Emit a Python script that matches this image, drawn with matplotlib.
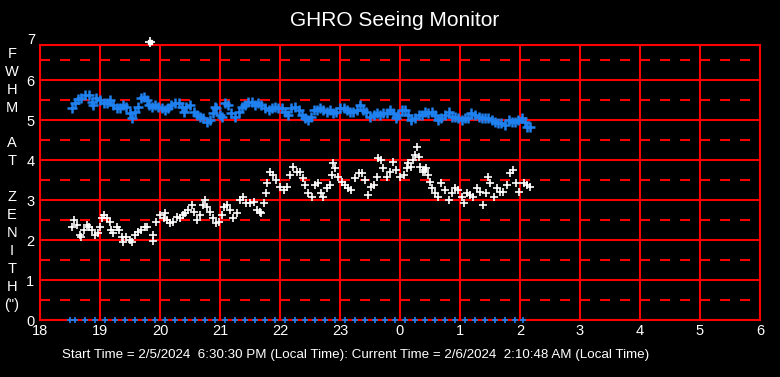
import matplotlib
matplotlib.use("Agg")
import matplotlib.pyplot as plt

plt.rcParams['font.family'] = ['Liberation Sans', 'DejaVu Sans']
plt.rcParams['lines.scale_dashes'] = False

# hours since midnight of the start day (values above 24 are after midnight)
blue_x = [18.53, 18.58, 18.64, 18.69, 18.75, 18.81, 18.86, 18.89, 18.94, 19.00, 19.06, 19.11,
          19.17, 19.22, 19.28, 19.33, 19.39, 19.44, 19.50, 19.54, 19.58, 19.64, 19.69, 19.73,
          19.78, 19.82, 19.86, 19.92, 19.97, 20.03, 20.08, 20.14, 20.19, 20.25, 20.31, 20.36,
          20.40, 20.44, 20.50, 20.56, 20.61, 20.67, 20.72, 20.78, 20.83, 20.88, 20.92, 20.94,
          21.00, 21.04, 21.08, 21.14, 21.19, 21.25, 21.31, 21.36, 21.42, 21.47, 21.53, 21.58,
          21.64, 21.69, 21.75, 21.81, 21.86, 21.92, 21.97, 22.03, 22.08, 22.14, 22.19, 22.25,
          22.31, 22.36, 22.42, 22.47, 22.51, 22.56, 22.61, 22.67, 22.72, 22.78, 22.83, 22.89,
          22.94, 23.00, 23.06, 23.11, 23.17, 23.22, 23.28, 23.33, 23.39, 23.44, 23.50, 23.56,
          23.61, 23.67, 23.72, 23.78, 23.83, 23.89, 23.93, 23.97, 24.03, 24.08, 24.14, 24.19,
          24.25, 24.31, 24.36, 24.42, 24.47, 24.53, 24.58, 24.64, 24.69, 24.75, 24.81, 24.86,
          24.92, 24.97, 25.03, 25.08, 25.14, 25.19, 25.25, 25.31, 25.36, 25.42, 25.47, 25.53,
          25.58, 25.64, 25.69, 25.75, 25.81, 25.86, 25.92, 25.97, 26.03, 26.08, 26.12, 26.17]
blue_y = [5.29, 5.42, 5.53, 5.54, 5.63, 5.63, 5.46, 5.38, 5.54, 5.50, 5.42, 5.42,
          5.50, 5.38, 5.29, 5.29, 5.38, 5.33, 5.17, 5.06, 5.21, 5.33, 5.54, 5.58,
          5.50, 5.38, 5.33, 5.38, 5.33, 5.29, 5.25, 5.29, 5.38, 5.42, 5.42, 5.33,
          5.21, 5.33, 5.38, 5.21, 5.13, 5.08, 5.04, 4.96, 5.00, 5.17, 5.33, 5.29,
          5.13, 5.08, 5.42, 5.38, 5.17, 5.08, 5.21, 5.33, 5.38, 5.46, 5.46, 5.38,
          5.42, 5.38, 5.29, 5.25, 5.29, 5.33, 5.29, 5.29, 5.21, 5.13, 5.29, 5.33,
          5.25, 5.13, 5.04, 5.00, 5.08, 5.25, 5.25, 5.29, 5.25, 5.21, 5.25, 5.17,
          5.21, 5.29, 5.29, 5.25, 5.21, 5.21, 5.25, 5.38, 5.25, 5.21, 5.08, 5.13,
          5.17, 5.13, 5.17, 5.17, 5.25, 5.17, 5.04, 5.13, 5.25, 5.25, 5.13, 5.00,
          5.04, 5.13, 5.13, 5.21, 5.17, 5.21, 5.13, 5.00, 5.04, 5.13, 5.21, 5.08,
          5.08, 5.04, 5.00, 5.04, 5.04, 5.17, 5.13, 5.08, 5.04, 5.04, 5.04, 5.00,
          4.96, 4.92, 4.92, 4.88, 5.00, 4.96, 4.96, 5.00, 5.04, 4.96, 4.83, 4.83]

white_x = [18.53, 18.57, 18.61, 18.67, 18.69, 18.73, 18.78, 18.82, 18.86, 18.92, 18.97, 19.00,
           19.03, 19.06, 19.11, 19.16, 19.19, 19.22, 19.28, 19.32, 19.36, 19.39, 19.44, 19.50,
           19.53, 19.58, 19.64, 19.69, 19.75, 19.79, 19.89, 19.88, 19.94, 20.00, 20.06, 20.08,
           20.11, 20.17, 20.22, 20.28, 20.33, 20.39, 20.42, 20.47, 20.53, 20.56, 20.61, 20.67,
           20.71, 20.75, 20.78, 20.83, 20.89, 20.93, 20.99, 21.03, 21.07, 21.11, 21.17, 21.22,
           21.28, 21.33, 21.39, 21.44, 21.50, 21.56, 21.61, 21.67, 21.69, 21.73, 21.77, 21.79,
           21.83, 21.89, 21.94, 22.00, 22.06, 22.11, 22.17, 22.22, 22.28, 22.33, 22.39, 22.42,
           22.47, 22.53, 22.58, 22.64, 22.69, 22.72, 22.78, 22.83, 22.86, 22.89, 22.92, 22.97,
           23.03, 23.08, 23.14, 23.19, 23.25, 23.31, 23.36, 23.42, 23.46, 23.51, 23.56, 23.61,
           23.64, 23.69, 23.72, 23.78, 23.83, 23.89, 23.94, 24.00, 24.06, 24.11, 24.14, 24.19,
           24.22, 24.25, 24.28, 24.31, 24.33, 24.38, 24.42, 24.44, 24.47, 24.50, 24.54, 24.58,
           24.64, 24.69, 24.75, 24.81, 24.86, 24.92, 24.97, 25.03, 25.07, 25.11, 25.17, 25.22,
           25.28, 25.33, 25.39, 25.43, 25.47, 25.50, 25.56, 25.61, 25.67, 25.72, 25.78, 25.83,
           25.89, 25.94, 25.99, 26.06, 26.11, 26.17]
white_y = [2.33, 2.50, 2.38, 2.13, 2.08, 2.25, 2.38, 2.33, 2.25, 2.13, 2.17, 2.33,
           2.54, 2.63, 2.54, 2.46, 2.25, 2.17, 2.33, 2.25, 2.08, 1.96, 2.08, 2.00,
           1.96, 2.13, 2.21, 2.25, 2.33, 2.33, 2.13, 1.98, 2.46, 2.63, 2.54, 2.67,
           2.50, 2.42, 2.46, 2.58, 2.54, 2.63, 2.67, 2.75, 2.88, 2.71, 2.50, 2.63,
           2.88, 3.00, 2.83, 2.71, 2.54, 2.42, 2.46, 2.63, 2.83, 2.88, 2.75, 2.54,
           2.67, 3.00, 3.08, 2.92, 2.92, 2.96, 2.75, 2.71, 2.67, 2.92, 3.17, 3.42,
           3.71, 3.63, 3.50, 3.33, 3.25, 3.33, 3.63, 3.83, 3.71, 3.71, 3.54, 3.38,
           3.17, 3.08, 3.38, 3.42, 3.17, 3.08, 3.29, 3.38, 3.63, 3.92, 3.79, 3.58,
           3.46, 3.38, 3.29, 3.25, 3.54, 3.67, 3.67, 3.50, 3.13, 3.33, 3.38, 3.58,
           4.04, 4.00, 3.79, 3.58, 3.71, 3.96, 3.75, 3.58, 3.63, 3.79, 3.92, 3.83,
           4.00, 4.13, 4.33, 4.08, 3.83, 3.71, 3.75, 3.79, 3.63, 3.46, 3.29, 3.17,
           3.08, 3.42, 3.25, 3.00, 3.17, 3.29, 3.25, 3.08, 2.92, 3.17, 3.13, 3.08,
           3.29, 3.21, 2.88, 3.17, 3.58, 3.42, 3.08, 3.29, 3.21, 3.21, 3.38, 3.67,
           3.75, 3.42, 3.21, 3.42, 3.38, 3.33]

outlier_x = [19.83]
outlier_y = [6.94]

zero_x = [18.50, 18.58, 18.75, 18.92, 19.08, 19.25, 19.42, 19.58, 19.75, 19.92, 20.08, 20.25,
          20.42, 20.58, 20.75, 20.92, 21.08, 21.25, 21.42, 21.58, 21.75, 21.92, 22.08, 22.25,
          22.42, 22.58, 22.75, 22.92, 23.08, 23.25, 23.42, 23.58, 23.75, 23.92, 24.08, 24.25,
          24.42, 24.58, 24.75, 24.92, 25.08, 25.25, 25.42, 25.58, 25.75, 25.92, 26.05]
zero_y = [0.0] * len(zero_x)

x_ticks = [18, 19, 20, 21, 22, 23, 24, 25, 26, 27, 28, 29, 30]
x_labels = ['18', '19', '20', '21', '22', '23', '0', '1', '2', '3', '4', '5', '6']
y_ticks = [0, 1, 2, 3, 4, 5, 6, 7]
half_ticks = [0.5, 1.5, 2.5, 3.5, 4.5, 5.5, 6.5]
ylabel_letters = ['F', 'W', 'H', 'M', '', 'A', 'T', '', 'Z', 'E', 'N', 'I', 'T', 'H', '(")']

title = 'GHRO Seeing Monitor'
footer = ('Start Time = 2/5/2024  6:30:30 PM (Local Time): Current Time = 2/6/2024  '
          '2:10:48 AM (Local Time)')

W, H = 780, 377
fig = plt.figure(figsize=(W / 100, H / 100), dpi=100, facecolor='black')
ax = fig.add_axes([40 / W, (H - 320) / H, 720 / W, 275 / H], facecolor='black')

red = '#ff0000'
for xv in x_ticks:
    ax.axvline(xv, color=red, lw=1.5, zorder=1)
for yv in y_ticks:
    ax.axhline(yv, color=red, lw=1.5, zorder=1)
for yv in half_ticks:
    ax.axhline(yv, color=red, lw=1.5, dashes=(7.2, 7.2), zorder=1)

blue = '#1f80f0'
ax.plot(blue_x, blue_y, ls='none', marker='+', ms=7, mew=1.8, color=blue, zorder=3)
ax.plot(white_x, white_y, ls='none', marker='+', ms=6, mew=1.2, color='white', zorder=3)
ax.plot(outlier_x, outlier_y, ls='none', marker='s', ms=3.5, color='white', zorder=4, clip_on=False)
ax.plot(outlier_x, outlier_y, ls='none', marker='+', ms=7, mew=1.2, color='white', zorder=4, clip_on=False)
ax.plot(zero_x, zero_y, ls='none', marker='+', ms=4.5, mew=1.2, color=blue, zorder=4, clip_on=False)

ax.set_xticks(x_ticks)
ax.set_xticklabels(x_labels)
ax.set_yticks(y_ticks)
ax.set_yticklabels([str(v) for v in y_ticks])
ax.set_xlim(18, 30)
ax.set_ylim(0, 6.875)
for s in ax.spines.values():
    s.set_color(red)
    s.set_linewidth(1.5)
ax.tick_params(length=0, colors='white', labelsize=10.5)
ax.xaxis.set_tick_params(pad=3)
ax.yaxis.set_tick_params(pad=4)
# label for the 7 line which sits just above the frame
ax.text(-0.0065, 7, '7', transform=ax.get_yaxis_transform(), color='white', fontsize=10.5,
        ha='right', va='center', clip_on=False)

fig.text(395 / W, 1 - 20 / H, title, color='white', fontsize=15, ha='center', va='center')
fig.text(62 / W, 1 - 355 / H, footer, color='white', fontsize=9.6, ha='left', va='center')
for i, ch in enumerate(ylabel_letters):
    if ch:
        fig.text(12 / W, 1 - (54 + i * 17.9) / H, ch, color='white', fontsize=10.5,
                 ha='center', va='center')

fig.savefig('out.png', dpi=100, facecolor='black')
